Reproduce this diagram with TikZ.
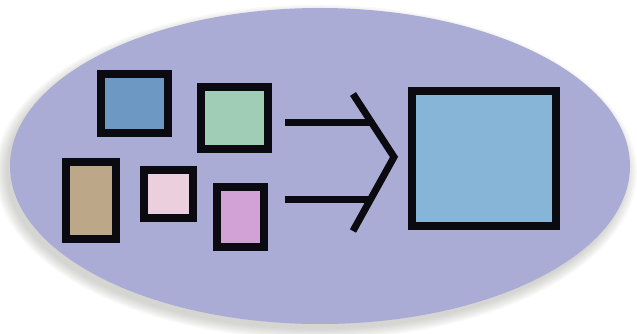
\documentclass[tikz,border=0pt]{standalone}
\usetikzlibrary{shapes.geometric}
\definecolor{ellfill}{HTML}{AAACD5}
\definecolor{shadowc}{HTML}{8E8E86}
\definecolor{cblue}{HTML}{6E98C4}
\definecolor{cgreen}{HTML}{9FCDB6}
\definecolor{ctan}{HTML}{BCA888}
\definecolor{cpink}{HTML}{EBCFDD}
\definecolor{cpurple}{HTML}{D2A2D6}
\definecolor{cbig}{HTML}{86B5D8}
\definecolor{ink}{HTML}{0A0A10}
\begin{document}
\begin{tikzpicture}[x=1pt,y=-1pt,
  box/.style={draw=ink,line width=8pt,rectangle,inner sep=0pt,line join=miter},
  conn/.style={draw=ink,line width=7pt},
  chev/.style={draw=ink,line width=7pt,line join=miter,miter limit=10}]
\useasboundingbox (0,0) rectangle (637,334);
\fill[white] (0,0) rectangle (637,334);
% soft shadow
\foreach \i in {1,...,8}{
  \fill[shadowc,opacity=0.05] (316,172) ellipse ({308+1.6*\i} and {156+1.4*\i});
}
\node[ellipse,fill=ellfill,minimum width=620pt,minimum height=316pt,inner sep=0pt] (ell) at (320,166) {};
% small boxes
\node[box,fill=cblue,minimum width=67pt,minimum height=59pt] (blue) at (134.5,103.5) {};
\node[box,fill=cgreen,minimum width=67pt,minimum height=62pt] (green) at (234.5,118) {};
\node[box,fill=ctan,minimum width=50pt,minimum height=77pt] (tan) at (91,200.5) {};
\node[box,fill=cpink,minimum width=49pt,minimum height=48pt] (pink) at (168.5,194) {};
\node[box,fill=cpurple,minimum width=47pt,minimum height=60pt] (purple) at (240.5,217) {};
% big box
\node[box,fill=cbig,minimum width=144pt,minimum height=135pt] (big) at (484,158.5) {};
% arrows
\coordinate (a1s) at (285,123);
\coordinate (a1e) at (372,123);
\coordinate (a2s) at (285,199);
\coordinate (a2e) at (371,199);
\coordinate (ctop) at (353,94);
\coordinate (ctip) at (394,157);
\coordinate (cbot) at (353,231);
\draw[conn] (a1s) -- (a1e);
\draw[conn] (a2s) -- (a2e);
\draw[chev] (ctop) -- (ctip) -- (cbot);
\end{tikzpicture}
\end{document}
